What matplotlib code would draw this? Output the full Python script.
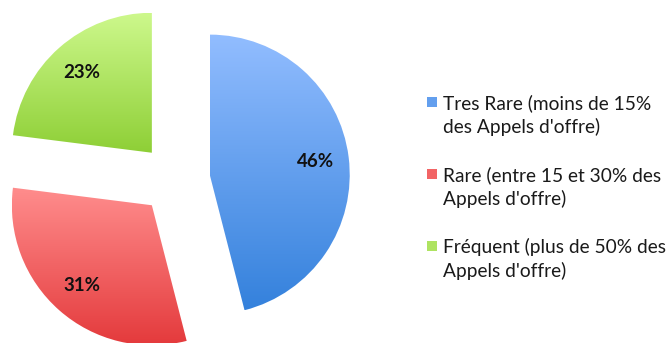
import numpy as np
import matplotlib
matplotlib.use("Agg")
import matplotlib.pyplot as plt
from matplotlib.colors import LinearSegmentedColormap, to_rgb
from matplotlib.patches import Rectangle

labels = [
    "Tres Rare (moins de 15%\ndes Appels d'offre)",
    "Rare (entre 15 et 30% des\nAppels d'offre)",
    "Fréquent (plus de 50% des\nAppels d'offre)",
]
values = [46, 31, 23]
# (top, bottom) shades of the vertical gradient in each slice
shades = [
    ("#92bdff", "#3481dc"),
    ("#ff8d8d", "#e43a3c"),
    ("#cdf88c", "#8ecf36"),
]

W, H, DPI = 669, 343, 100
fig = plt.figure(figsize=(W / DPI, H / DPI), dpi=DPI)
ax = fig.add_axes([0, 0, 1, 1])

# axes run in pixel units, so radius/explode are in px
R = 140
center = (175, H - 179)
wedges, _, autotexts = ax.pie(
    values, startangle=90, counterclock=False, radius=R, center=center,
    explode=[35] * 3, autopct="%d%%", pctdistance=0.76,
    colors=[s[0] for s in shades],
    textprops=dict(fontsize=13.5, fontweight="bold", family="Lato", color="#111111"),
)

# vertical gradient fill, clipped to each slice
grad = np.linspace(0, 1, 256).reshape(-1, 1)
for w, (top, bot) in zip(wedges, shades):
    w.set_facecolor("none")
    w.set_edgecolor("none")
    ext = w.get_path().get_extents()
    cmap = LinearSegmentedColormap.from_list("g", [top, bot])
    im = ax.imshow(grad, cmap=cmap, aspect="auto", interpolation="bilinear",
                   extent=(ext.x0, ext.x1, ext.y0, ext.y1), origin="upper",
                   zorder=1)
    im.set_clip_path(w)
for t in autotexts:
    t.set_zorder(3)

ax.set_xlim(0, W)
ax.set_ylim(0, H)
ax.set_aspect("equal")
ax.axis("off")

# legend drawn by hand: square next to the first line of each entry
leg_x, leg_y0, leg_step = 427, 97, 72
for i, (lab, (top, bot)) in enumerate(zip(labels, shades)):
    y = leg_y0 + i * leg_step
    c = np.mean([to_rgb(top), to_rgb(bot)], axis=0)
    ax.add_patch(Rectangle((leg_x, H - y - 10), 10, 10, facecolor=c,
                           edgecolor="none", zorder=2))
    ax.text(leg_x + 16, H - y + 3, lab, fontsize=13.8, family="Lato",
            color="#1a1a1a", va="top", ha="left", linespacing=1.38)

fig.savefig("out.png", dpi=DPI, facecolor="white")
